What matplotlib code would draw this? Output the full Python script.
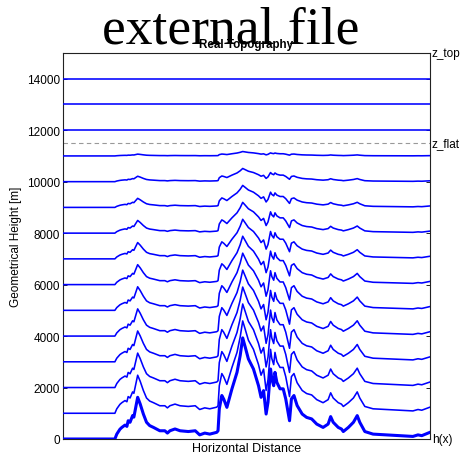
import numpy as np
import matplotlib; matplotlib.use("Agg")
import matplotlib.pyplot as plt

plt.rcParams["font.family"] = ["Liberation Sans", "DejaVu Sans"]

# terrain profile h(x): distance [km] and height [m]
dist_km = [0, 82, 85, 90, 93, 98, 101, 103, 106, 110,
           112, 118, 122, 127, 132, 137, 143, 153, 161, 165,
           169, 177, 185, 198, 209, 216, 224, 232, 243, 245,
           247, 251, 254, 259, 267, 275, 280, 284, 288, 293,
           301, 309, 313, 317, 321, 324, 328, 330, 333, 335,
           338, 343, 348, 352, 358, 361, 365, 370, 378, 385,
           393, 401, 411, 419, 423, 427, 435, 440, 443, 451,
           459, 465, 469, 477, 490, 511, 532, 553, 561, 567,
           577, 580]
terrain_m = [0, 0, 190, 380, 450, 540, 490, 710, 650, 910,
             850, 1620, 1360, 970, 650, 520, 450, 320, 320, 230,
             320, 390, 320, 290, 320, 160, 230, 190, 260, 320,
             1170, 1690, 1550, 1230, 1950, 2590, 3240, 3930, 3570, 3110,
             2720, 2070, 1620, 1880, 970, 1430, 2720, 2330, 2070, 2590,
             2200, 1950, 1950, 1560, 710, 1560, 1690, 1300, 970, 840,
             780, 580, 450, 580, 870, 650, 450, 390, 290, 450,
             650, 910, 650, 290, 190, 160, 130, 100, 160, 130,
             230, 260]

levels = np.arange(0, 15000, 1000)   # terrain-following model levels
z_flat = 11500
z_top = 15000

x = np.array(dist_km, dtype=float)
h = np.array(terrain_m, dtype=float)

fig = plt.figure(figsize=(4.62, 4.56), dpi=100)
ax = fig.add_axes([63/462, 16/456, 367/462, 386/456])

# Gal-Chen coordinate: terrain influence decays linearly up to z_flat
for zeta in levels[1:]:
    decay = max(0.0, 1 - zeta/z_flat)
    ax.plot(x, zeta + h*decay, color="#0000ff", lw=1.15, zorder=3,
            solid_joinstyle="round")
ax.plot(x, h, color="#0000ff", lw=2.2, zorder=4, solid_joinstyle="round")
ax.axhline(z_flat, color="#999999", lw=0.8, ls=(0, (4, 3)), zorder=2)

ax.set_xlim(x[0], x[-1])
ax.set_ylim(0, z_top)
ax.set_xticks([])
ax.set_yticks(np.arange(0, 14001, 2000))
ax.tick_params(axis="y", direction="in", length=3, width=0.6, labelsize=8.5,
               right=True, pad=2)
for sp in ax.spines.values():
    sp.set_linewidth(0.8)
    sp.set_color("#222222")

ax.set_ylabel("Geometrical Height [m]", fontsize=8.5, labelpad=4)
ax.set_xlabel("Horizontal Distance", fontsize=9, labelpad=2)
ax.set_title("Real Topography", fontsize=8.4, fontweight="bold", pad=4)

# level names on the right edge
tr = ax.get_yaxis_transform()
for name, zz in [("z_top", z_top), ("z_flat", z_flat), ("h(x)", 0)]:
    ax.text(1.005, zz, name, transform=tr, ha="left", va="center", fontsize=8.5,
            clip_on=False)

fig.text(0.5, 0.934, "external file", ha="center", va="center",
         family=["Liberation Serif", "DejaVu Serif"], fontsize=38.5, color="black")

fig.savefig("out.png", dpi=100)
plt.close(fig)
